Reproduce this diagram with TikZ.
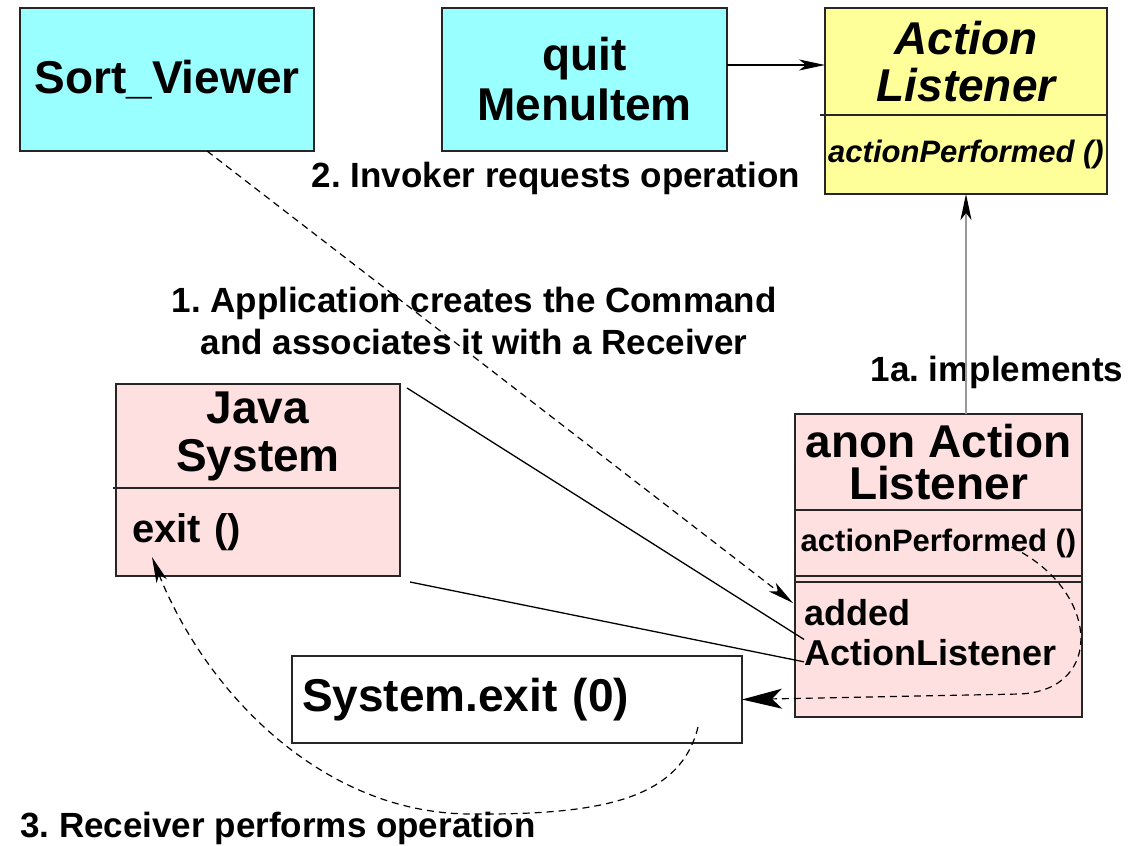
\documentclass[tikz,border=0pt]{standalone}
\usepackage{fontspec}
\setmainfont{Liberation Sans}
\usetikzlibrary{arrows.meta}
\usetikzlibrary{positioning}
\tikzset{cls/.style = {draw=black!85, line width=1.5pt, inner sep=0pt, outer sep=0pt},
         title/.style = {font=\fontsize{46}{#1}\selectfont\bfseries, align=center},
         ititle/.style = {font=\fontsize{46}{#1}\selectfont\bfseries\itshape, align=center},
         op/.style = {font=\fontsize{#1}{40}\selectfont\bfseries},
         itop/.style = {font=\fontsize{#1}{40}\selectfont\bfseries\itshape},
         lbl/.style = {inner sep=0pt, font=\fontsize{35}{42}\selectfont\bfseries},
         arr/.style = {-{Stealth[length=26pt, width=11pt, inset=7pt]}, line width=1.2pt},
         dasharr/.style = {arr, dash pattern=on 7pt off 5pt},
         ptr/.style = {line width=1.3pt}}
\definecolor{mcyan}{rgb}{0.6, 1, 1}
\definecolor{myellow}{rgb}{1, 1, 0.6}
\definecolor{mpink}{rgb}{1, 0.88, 0.88}

\begin{document}
\frenchspacing
\begin{tikzpicture}[x=1pt, y=-1pt]
    \useasboundingbox (0, 0) rectangle (1133, 846);

    % invoker side
    \node [cls, fill=mcyan, minimum width=294pt, minimum height=143pt, title=48] (sort) at (167, 79.5) {Sort\_Viewer};
    \node [cls, fill=mcyan, minimum width=285pt, minimum height=143pt, title=50] (quit) at (584.5, 79.5) {quit\\MenuItem};

    \node [cls, fill=myellow, minimum width=282pt, minimum height=107pt, ititle=47] (alt) at (966, 61.5) {Action\\Listener};
    \node [cls, fill=myellow, minimum width=282pt, minimum height=79pt, below=0pt of alt, itop=31] (alm) {actionPerformed ()};
    \draw [line width=1.5pt, draw=black!85] ([xshift=-5pt]alt.south west) -- (alt.south west);

    % receiver
    \node [cls, fill=mpink, minimum width=284pt, minimum height=104pt, title=48] (javat) at (258, 436) {Java\\System};
    \node [cls, fill=mpink, minimum width=284pt, minimum height=88pt, below=0pt of javat, op=40, text width=252pt, align=left] (javam) {exit ()};
    \draw [line width=1.5pt, draw=black!85] ([xshift=-3pt]javat.south west) -- (javat.south west);

    % command
    \node [cls, fill=mpink, minimum width=287pt, minimum height=96pt, title=42] (anont) at (938.5, 462) {anon Action\\Listener};
    \node [cls, fill=mpink, minimum width=287pt, minimum height=66pt, below=0pt of anont, op=31] (anonm) {actionPerformed ()};
    \node [cls, fill=mpink, minimum width=287pt, minimum height=141pt, below=0pt of anonm] (anonb) {};
    \draw [line width=1.5pt, draw=black!85] ([yshift=-6pt]anonb.north west) -- ([yshift=-6pt]anonb.north east);
    \node [op=36, inner sep=0pt, align=left, anchor=north west] (added) at ([xshift=9pt, yshift=-23pt]anonb.north west) {added\\ActionListener};

    \node [cls, fill=white, minimum width=450pt, minimum height=87pt, op=46, text width=430pt, align=left] (sysexit) at (517, 699.5) {System.exit (0)};

    % labels
    \node [lbl] (invokes) at (556, 178) {2. Invoker requests operation};
    \node [lbl, align=center] (creates) at (474, 321) {1. Application creates the Command\\and associates it with a Receiver};
    \node [lbl] (impl) at (997, 372) {1a. implements};
    \node [lbl] (performs) at (278, 828) {3. Receiver performs operation};

    % connectors
    \draw [arr] ([yshift=14.5pt]quit.east) -- ([yshift=14.5pt]quit.east -| alt.west);
    \draw [arr, draw=black!40, line width=2pt, -{Stealth[length=26pt, width=11pt, inset=7pt, black]}] (anont.north -| alm.south) -- (alm.south);
    \draw [dasharr] ([xshift=40pt]sort.south) -- ([xshift=-2pt, yshift=-27pt]anonb.north west);
    \draw [ptr] ([xshift=7pt, yshift=-4pt]javat.north east) -- ([yshift=-7pt]added.west);
    \draw [ptr] ([xshift=10pt, yshift=-6pt]javam.south east) -- ([yshift=4pt]added.south west);
    \draw [dasharr, -{Stealth[length=40pt, width=20pt, inset=10pt]}] ([xshift=73pt, yshift=-4pt]anonm.center) .. controls (1100, 590) and (1105, 690) .. (1020, 694) -- (sysexit.east);
    \draw [dasharr] ([xshift=181pt, yshift=-27.5pt]sysexit.center) .. controls (680, 800) and (600, 815) .. (470, 814) .. controls (320, 813) and (205, 690) .. ([xshift=36pt, yshift=19pt]javam.south west);
\end{tikzpicture}
\end{document}
